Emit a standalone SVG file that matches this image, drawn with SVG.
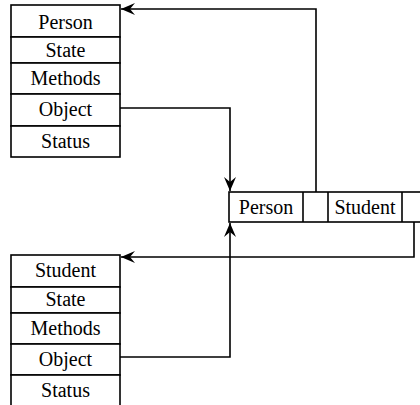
<svg xmlns="http://www.w3.org/2000/svg" width="420" height="405" viewBox="0 0 420 405">
<style>
.box{fill:#fff;stroke:#000;stroke-width:1.6}
.ln{fill:none;stroke:#000;stroke-width:1.6}
text{font-family:"Liberation Serif","Times New Roman",serif;font-size:20px;fill:#000;text-anchor:middle}
</style>
<defs>
<marker id="arr" viewBox="0 0 14 12" refX="14" refY="6" markerWidth="14" markerHeight="12" markerUnits="userSpaceOnUse" orient="auto">
<path d="M0,0 L14,6 L0,12 L5,6 Z" fill="#000"/>
</marker>
</defs>
<g id="topObj">
<rect class="box" x="11" y="5" width="109" height="32"/>
<rect class="box" x="11" y="37" width="109" height="26"/>
<rect class="box" x="11" y="63" width="109" height="31"/>
<rect class="box" x="11" y="94" width="109" height="32"/>
<rect class="box" x="11" y="126" width="109" height="31"/>
<text x="65.5" y="29">Person</text>
<text x="65.5" y="57">State</text>
<text x="65.5" y="85">Methods</text>
<text x="65.5" y="116">Object</text>
<text x="65.5" y="148">Status</text>
</g>
<g id="botObj">
<rect class="box" x="11" y="255" width="109" height="32"/>
<rect class="box" x="11" y="287" width="109" height="26"/>
<rect class="box" x="11" y="313" width="109" height="31"/>
<rect class="box" x="11" y="344" width="109" height="31"/>
<rect class="box" x="11" y="375" width="109" height="40"/>
<text x="65.5" y="277">Student</text>
<text x="65.5" y="306">State</text>
<text x="65.5" y="335">Methods</text>
<text x="65.5" y="366">Object</text>
<text x="65.5" y="397">Status</text>
</g>
<g id="midObj">
<rect class="box" x="229" y="192" width="200" height="30"/>
<line class="ln" x1="303" y1="192" x2="303" y2="222"/>
<line class="ln" x1="328" y1="192" x2="328" y2="222"/>
<line class="ln" x1="402" y1="192" x2="402" y2="222"/>
<text x="266" y="214">Person</text>
<text x="365" y="214">Student</text>
</g>
<g id="connectors">
<path class="ln" d="M316,192 V9 H121" marker-end="url(#arr)"/>
<path class="ln" d="M120,108 H230 V191" marker-end="url(#arr)"/>
<path class="ln" d="M414,222 V257 H121" marker-end="url(#arr)"/>
<path class="ln" d="M120,357 H230 V223" marker-end="url(#arr)"/>
</g>
</svg>
